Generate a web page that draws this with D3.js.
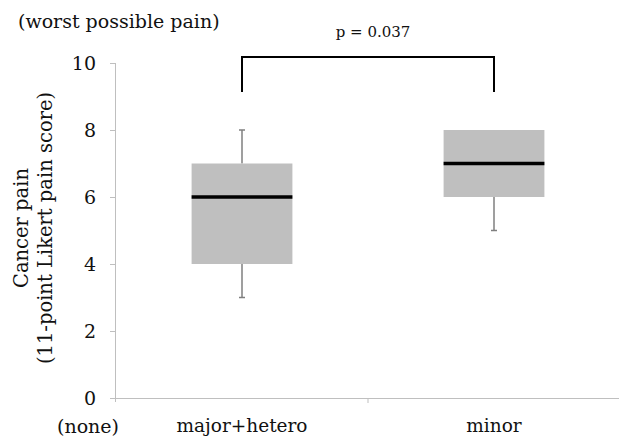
<!DOCTYPE html>
<html>
<head>
<meta charset="utf-8">
<script src="https://cdn.jsdelivr.net/npm/d3@7"></script>
<style>
  body { margin: 0; background: #fff; }
  svg { display: block; }
  text { font-family: "DejaVu Serif", "Liberation Serif", serif; fill: #111; }
</style>
</head>
<body>
<div id="chart"></div>
<script>
var categories = ["major+hetero", "minor"];
var mins = [3, 5];
var q1s = [4, 6];
var medians = [6, 7];
var q3s = [7, 8];
var maxs = [8, 8];
var yTicks = [0, 2, 4, 6, 8, 10];
var pLabel = "p = 0.037";

var width = 619, height = 443;
var axisColor = "#bfbfbf";

var svg = d3.select("#chart").append("svg")
    .attr("width", width)
    .attr("height", height);

var y = d3.scaleLinear().domain([0, 10]).range([398, 63]);
var x = d3.scaleBand().domain(categories).range([116, 620]).padding(0);
var boxW = x.bandwidth() * 0.4;

// y axis
var yAxis = svg.append("g")
    .attr("transform", "translate(116,0)")
    .call(d3.axisLeft(y).tickValues(yTicks).tickSize(6).tickPadding(14));
yAxis.select(".domain").attr("stroke", axisColor).attr("d", "M-0.5," + y(10) + "V" + (y(0) + 4));
yAxis.selectAll(".tick line").attr("stroke", axisColor);
yAxis.selectAll(".tick text")
    .style("font-family", "DejaVu Serif")
    .style("font-size", "19px")
    .attr("fill", "#111");

// x axis
var xAxis = svg.append("g")
    .attr("transform", "translate(0," + y(0) + ")")
    .call(d3.axisBottom(x).tickSize(0).tickPadding(21));
xAxis.select(".domain").attr("stroke", axisColor).attr("d", "M110,0.5H620");
xAxis.selectAll(".tick text")
    .style("font-family", "DejaVu Serif")
    .style("font-size", "18.5px")
    .attr("fill", "#111");
// tick between categories
svg.append("line")
    .attr("x1", x(categories[1])).attr("x2", x(categories[1]))
    .attr("y1", y(0)).attr("y2", y(0) + 5)
    .attr("stroke", axisColor);

svg.append("text")
    .attr("x", 88).attr("y", y(0) + 35)
    .attr("text-anchor", "middle")
    .style("font-size", "19px")
    .text("(none)");

svg.append("text")
    .attr("x", 18).attr("y", 28)
    .style("font-size", "19px")
    .text("(worst possible pain)");

// y title
var yt = svg.append("text")
    .attr("transform", "translate(0,228) rotate(-90)")
    .attr("text-anchor", "middle")
    .style("font-size", "19.5px");
yt.append("tspan").attr("x", 0).attr("y", 28).text("Cancer pain");
yt.append("tspan").attr("x", 0).attr("y", 52).text("(11-point Likert pain score)");

// boxes
var boxes = svg.selectAll(".box").data(categories).enter().append("g")
    .attr("class", "box");

boxes.each(function (c, i) {
  var g = d3.select(this);
  var cx = x(c) + x.bandwidth() / 2;
  if (mins[i] < q1s[i]) {
    g.append("line").attr("x1", cx).attr("x2", cx)
        .attr("y1", y(q1s[i])).attr("y2", y(mins[i]))
        .attr("stroke", "#7f7f7f").attr("stroke-width", 1.5);
    g.append("line").attr("x1", cx - 3).attr("x2", cx + 3)
        .attr("y1", y(mins[i])).attr("y2", y(mins[i]))
        .attr("stroke", "#7f7f7f").attr("stroke-width", 1.5);
  }
  if (maxs[i] > q3s[i]) {
    g.append("line").attr("x1", cx).attr("x2", cx)
        .attr("y1", y(q3s[i])).attr("y2", y(maxs[i]))
        .attr("stroke", "#7f7f7f").attr("stroke-width", 1.5);
    g.append("line").attr("x1", cx - 3).attr("x2", cx + 3)
        .attr("y1", y(maxs[i])).attr("y2", y(maxs[i]))
        .attr("stroke", "#7f7f7f").attr("stroke-width", 1.5);
  }
  g.append("rect")
      .attr("x", cx - boxW / 2).attr("width", boxW)
      .attr("y", y(q3s[i])).attr("height", y(q1s[i]) - y(q3s[i]))
      .attr("fill", "#bfbfbf");
  g.append("line")
      .attr("x1", cx - boxW / 2).attr("x2", cx + boxW / 2)
      .attr("y1", y(medians[i])).attr("y2", y(medians[i]))
      .attr("stroke", "#000").attr("stroke-width", 3.5);
});

// significance bracket
var c0 = x(categories[0]) + x.bandwidth() / 2;
var c1 = x(categories[1]) + x.bandwidth() / 2;
svg.append("path")
    .attr("d", "M" + c0 + ",92V57H" + c1 + "V92")
    .attr("fill", "none")
    .attr("stroke", "#000")
    .attr("stroke-width", 2);
svg.append("text")
    .attr("x", (c0 + c1) / 2 + 5).attr("y", 37)
    .attr("text-anchor", "middle")
    .style("font-size", "15px")
    .text(pLabel);
</script>
</body>
</html>
